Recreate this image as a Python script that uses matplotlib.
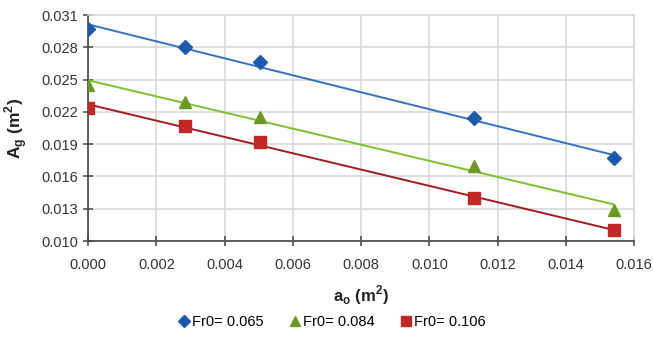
import numpy as np
import matplotlib.pyplot as plt

plt.rcParams['font.family'] = ['Liberation Sans', 'DejaVu Sans']

# orifice area a_o (m^2) and gap area A_g (m^2) for three Froude numbers
a_o = [0.0, 0.00284, 0.00504, 0.0113, 0.0154]
ag_065 = [0.0297, 0.0280, 0.0266, 0.0214, 0.0177]
ag_084 = [0.0245, 0.0229, 0.0215, 0.0170, 0.0129]
ag_106 = [0.0224, 0.0207, 0.0192, 0.0140, 0.0110]
labels = ['Fr0= 0.065', 'Fr0= 0.084', 'Fr0= 0.106']

series = [
    (ag_065, 'D', '#1f5aa8', '#3372c4'),
    (ag_084, '^', '#6b9a22', '#7cc230'),
    (ag_106, 's', '#c0282a', '#a11d1d'),
]

fig = plt.figure(figsize=(6.53, 3.45), dpi=100)
ax = fig.add_axes([0.135, 0.3014, 0.836, 0.655])

x = np.array(a_o)
for (vals, mk, mcol, lcol), lab in zip(series, labels):
    # linear trendline over the measured range
    k, b = np.polyfit(x, vals, 1)
    xs = np.array([x.min(), x.max()])
    ax.plot(xs, k * xs + b, color=lcol, lw=1.4, zorder=2)
    ax.plot(x, vals, linestyle='none', marker=mk, color=mcol,
            markersize=8 if mk != 'D' else 7, label=lab, zorder=3)

ax.set_xlim(0, 0.016)
ax.set_ylim(0.010, 0.031)
ax.set_xticks(np.arange(0, 0.0161, 0.002))
ax.set_yticks(np.arange(0.010, 0.0311, 0.003))
ax.xaxis.set_major_formatter(plt.FormatStrFormatter('%.3f'))
ax.yaxis.set_major_formatter(plt.FormatStrFormatter('%.3f'))
ax.grid(True, color='#d9d9d9', lw=1.2)
ax.set_axisbelow(True)

for s in ['top', 'right']:
    ax.spines[s].set_color('#d9d9d9')
    ax.spines[s].set_linewidth(1.2)
for s in ['left', 'bottom']:
    ax.spines[s].set_color('#444444')
    ax.spines[s].set_linewidth(1.2)
ax.tick_params(axis='both', direction='inout', length=7, width=1.1,
               color='#444444', labelsize=10.5, labelcolor='#333333')
ax.tick_params(axis='x', pad=9)

ax.set_xlabel(r'a$_\mathregular{o}$ (m$^\mathregular{2}$)', fontsize=12,
              fontweight='bold', color='#222222', labelpad=8)
ax.set_ylabel(r'A$_\mathregular{g}$ (m$^\mathregular{2}$)', fontsize=12.5,
              fontweight='bold', color='#222222', labelpad=8)

ax.legend(loc='center', bbox_to_anchor=(0.445, -0.36), ncol=3, frameon=False,
          fontsize=10.5, handletextpad=0.1, columnspacing=1.6,
          handlelength=1.0, markerscale=0.85)

fig.savefig('out.png', dpi=100, facecolor='white')
